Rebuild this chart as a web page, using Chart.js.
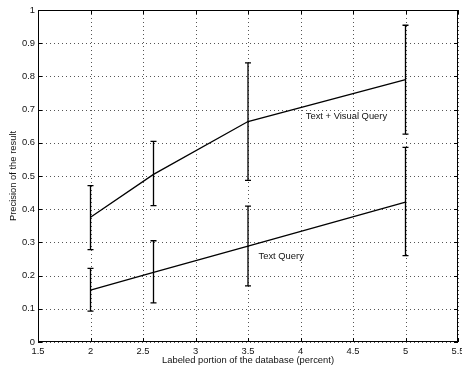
<!DOCTYPE html>
<html>
<head>
<meta charset="utf-8">
<script src="https://cdn.jsdelivr.net/npm/chart.js@4.4.0/dist/chart.umd.min.js"></script>
<style>
  html, body { margin: 0; padding: 0; background: #fff; }
  #wrap { width: 462px; height: 367px; }
</style>
</head>
<body>
<div id="wrap"><canvas id="precisionChart"></canvas></div>
<script>
const labeledPortion = [2, 2.6, 3.5, 5];
const visualPrecision = [0.376, 0.505, 0.664, 0.79];
const visualLow = [0.278, 0.411, 0.487, 0.626];
const visualHigh = [0.471, 0.604, 0.841, 0.954];
const textPrecision = [0.156, 0.21, 0.289, 0.421];
const textLow = [0.093, 0.118, 0.169, 0.26];
const textHigh = [0.222, 0.305, 0.409, 0.586];
const xTicks = [1.5, 2, 2.5, 3, 3.5, 4, 4.5, 5, 5.5];
const yTicks = [0, 0.1, 0.2, 0.3, 0.4, 0.5, 0.6, 0.7, 0.8, 0.9, 1];
const seriesNames = ['Text + Visual Query', 'Text Query'];

const FONT = 'Liberation Sans, Arial, Helvetica, sans-serif';
const fmt = v => String(+Number(v).toFixed(1));

const toPoints = (xs, ys) => xs.map((x, i) => ({x: x, y: ys[i]}));

// grid dots under the lines
const dottedGrid = {
  id: 'dottedGrid',
  beforeDatasetsDraw(chart) {
    const {ctx, chartArea: a, scales: {x, y}} = chart;
    ctx.save();
    ctx.strokeStyle = '#555';
    ctx.lineWidth = 1;
    ctx.setLineDash([1, 3]);
    xTicks.forEach(v => {
      const px = Math.round(x.getPixelForValue(v)) + 0.5;
      ctx.beginPath(); ctx.moveTo(px, a.top); ctx.lineTo(px, a.bottom); ctx.stroke();
    });
    yTicks.forEach(v => {
      const py = Math.round(y.getPixelForValue(v)) + 0.5;
      ctx.beginPath(); ctx.moveTo(a.left, py); ctx.lineTo(a.right, py); ctx.stroke();
    });
    ctx.restore();
  }
};

// error bars, frame with inside ticks, series labels
const errorBars = {
  id: 'errorBars',
  afterDatasetsDraw(chart) {
    const {ctx, chartArea: a, scales: {x, y}} = chart;
    ctx.save();
    ctx.strokeStyle = '#000';
    ctx.lineWidth = 1.3;
    const bars = [[visualLow, visualHigh], [textLow, textHigh]];
    bars.forEach(([lo, hi]) => {
      labeledPortion.forEach((xv, i) => {
        const px = x.getPixelForValue(xv);
        const top = y.getPixelForValue(hi[i]);
        const bot = y.getPixelForValue(lo[i]);
        ctx.beginPath();
        ctx.moveTo(px, top); ctx.lineTo(px, bot);
        ctx.moveTo(px - 3, top); ctx.lineTo(px + 3, top);
        ctx.moveTo(px - 3, bot); ctx.lineTo(px + 3, bot);
        ctx.stroke();
      });
    });

    ctx.lineWidth = 1;
    ctx.strokeRect(a.left + 0.5, a.top + 0.5, a.right - a.left - 1, a.bottom - a.top - 1);
    ctx.beginPath();
    xTicks.forEach(v => {
      const px = Math.round(x.getPixelForValue(v)) + 0.5;
      ctx.moveTo(px, a.bottom); ctx.lineTo(px, a.bottom - 4);
      ctx.moveTo(px, a.top); ctx.lineTo(px, a.top + 4);
    });
    yTicks.forEach(v => {
      const py = Math.round(y.getPixelForValue(v)) + 0.5;
      ctx.moveTo(a.left, py); ctx.lineTo(a.left + 4, py);
      ctx.moveTo(a.right, py); ctx.lineTo(a.right - 4, py);
    });
    ctx.stroke();

    ctx.fillStyle = '#111';
    ctx.font = '9.4px ' + FONT;
    ctx.textAlign = 'left';
    ctx.textBaseline = 'middle';
    ctx.fillText(seriesNames[0], x.getPixelForValue(4.05), y.getPixelForValue(0.679));
    ctx.fillText(seriesNames[1], x.getPixelForValue(3.6), y.getPixelForValue(0.259));
    ctx.restore();
  }
};

new Chart(document.getElementById('precisionChart'), {
  type: 'line',
  data: {
    datasets: [{
      label: seriesNames[0],
      data: toPoints(labeledPortion, visualPrecision),
      borderColor: '#000',
      borderWidth: 1.3,
      pointRadius: 0,
      tension: 0
    }, {
      label: seriesNames[1],
      data: toPoints(labeledPortion, textPrecision),
      borderColor: '#000',
      borderWidth: 1.3,
      pointRadius: 0,
      tension: 0
    }]
  },
  options: {
    responsive: true,
    maintainAspectRatio: false,
    animation: false,
    layout: { padding: { top: 10, right: 4, left: 0, bottom: 0 } },
    plugins: { legend: { display: false }, tooltip: { enabled: false } },
    scales: {
      x: {
        type: 'linear',
        min: 1.5,
        max: 5.5,
        afterBuildTicks: s => { s.ticks = xTicks.map(v => ({value: v})); },
        afterFit: s => { s.height = 25; s.paddingLeft = 0; s.paddingRight = 0; },
        grid: { display: false, drawTicks: false },
        border: { display: false },
        ticks: { color: '#111', padding: 4, maxRotation: 0, autoSkip: false, font: { family: FONT, size: 9.4 }, callback: fmt },
        title: { display: true, text: 'Labeled portion of the database (percent)', color: '#111', font: { family: FONT, size: 9.4 }, padding: { top: 0, bottom: 1 } }
      },
      y: {
        min: 0,
        max: 1,
        afterBuildTicks: s => { s.ticks = yTicks.map(v => ({value: v})); },
        afterFit: s => { s.width = 38; s.paddingTop = 0; s.paddingBottom = 0; },
        grid: { display: false, drawTicks: false },
        border: { display: false },
        ticks: { color: '#111', padding: 3, autoSkip: false, font: { family: FONT, size: 9.4 }, callback: fmt },
        title: { display: true, text: 'Precision of the result', color: '#111', font: { family: FONT, size: 9.4 }, padding: { top: 8, bottom: 0 } }
      }
    }
  },
  plugins: [dottedGrid, errorBars]
});
</script>
</body>
</html>
